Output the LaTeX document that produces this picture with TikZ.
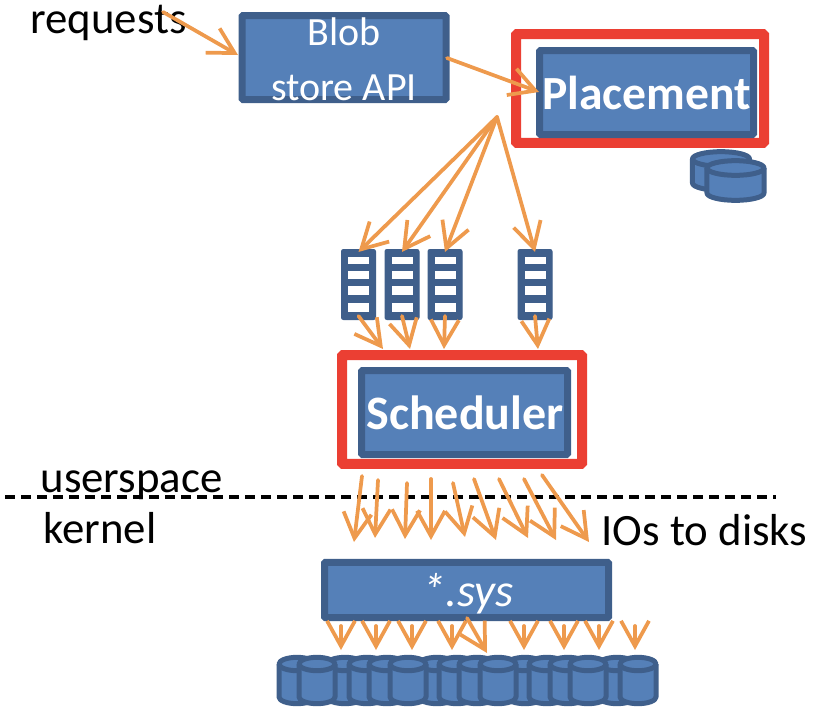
\documentclass[tikz,border=0pt]{standalone}
\usepackage{fontspec}
\setmainfont{Carlito}
\usetikzlibrary{arrows.meta}

\definecolor{boxblue}{HTML}{5580B8}
\definecolor{boxedge}{HTML}{3F5F8B}
\definecolor{flowline}{HTML}{EE9A4D}
\definecolor{markred}{HTML}{EB3F33}

\tikzset{
  blockbox/.style={draw=boxedge, fill=boxblue, line width=5.25pt, rounded corners=.8pt, inner sep=0pt},
  markbox/.style={draw=markred, line width=7.5pt, rounded corners=.8pt, inner sep=0pt},
  queuebox/.style={draw=boxedge, fill=boxedge, line width=.75pt, rounded corners=1.5pt, inner sep=0pt, minimum width=25.5pt, minimum height=52.5pt},
  queuecell/.style={draw=boxedge, fill=white, line width=.4pt, inner sep=0pt, minimum width=16.5pt},
  diskshape/.style={draw=boxedge, fill=boxblue, line width=3.75pt, line join=round},
  flow/.style={draw=flowline, line width=2.8pt, line cap=round, line join=round, -{Straight Barb[length=19pt,width=21pt,line width=2.8pt]}},
  plainlabel/.style={font=\fontsize{33.6}{36}\selectfont, inner sep=0pt, anchor=base},
  boxlabel/.style={text=white, inner sep=0pt, anchor=base}
}

\newcommand{\Queue}[2]{%
  \node[queuebox] (#1) at (#2,284.5) {};
  \node[queuecell, minimum height=5.5pt] (#1a) at (#2,260.3) {};
  \node[queuecell, minimum height=6.5pt] (#1b) at (#2,275) {};
  \node[queuecell, minimum height=7pt] (#1c) at (#2,290.3) {};
  \node[queuecell, minimum height=7.5pt] (#1d) at (#2,307.7) {};
}
\newcommand{\Disk}[6]{%
  \coordinate (#1) at (#2,#3);
  \draw[diskshape] (#2-#5*4/3,#3) -- (#2-#5*4/3,#4) arc[start angle=180, end angle=360, x radius=#5pt, y radius=#6pt] -- (#2+#5*4/3,#3);
  \draw[diskshape] (#1) ellipse[x radius=#5pt, y radius=#6pt];
}
\newcommand{\SmallDisk}[2]{\Disk{#1}{#2}{664}{697}{13.5}{5}}

\begin{document}
\begin{tikzpicture}[x=.75pt, y=-.75pt]
\useasboundingbox (0,0) rectangle (814,718);

\node[plainlabel] (requests) at (108.5,33) {requests};
\node[plainlabel] (userspace) at (131.5,492) {userspace};
\node[plainlabel] (kernel) at (100,543) {kernel};
\node[plainlabel] (iolabel) at (704.5,545) {IOs to disks};

\node[blockbox, minimum width=153pt, minimum height=63pt] (blobapi) at (344,57.5) {};
\node[boxlabel, font=\fontsize{30}{32}\selectfont] (bloblabel) at (344,45) {Blob};
\node[boxlabel, font=\fontsize{30}{32}\selectfont] (apilabel) at (344,100) {store API};

\node[markbox, minimum width=186pt, minimum height=81.5pt] (placemark) at (640,88.5) {};
\node[blockbox, minimum width=160.5pt, minimum height=63pt] (placement) at (646.5,92.5) {};
\node[boxlabel, font=\bfseries\fontsize{35.7}{37}\selectfont] (placelabel) at (646.5,109) {Placement};

\Disk{pdiskA}{721}{159}{183}{21.4}{5.5}
\Disk{pdiskB}{735.5}{168}{193}{21.4}{5.5}

\Queue{qA}{358.5}
\Queue{qB}{402}
\Queue{qC}{445}
\Queue{qD}{535}

\node[markbox, minimum width=180pt, minimum height=81.5pt] (schedmark) at (462,409.5) {};
\node[blockbox, minimum width=154.5pt, minimum height=63pt] (scheduler) at (464.5,412.5) {};
\node[boxlabel, font=\bfseries\fontsize{36}{38}\selectfont] (schedlabel) at (465,429) {Scheduler};

\coordinate (splitL) at (5,497);
\coordinate (splitR) at (776,497);
\draw[black, line width=2.4pt, dash pattern=on 7.5pt off 4.5pt] (splitL) -- (splitR);

\node[blockbox, minimum width=213pt, minimum height=41.5pt] (sysbox) at (466.5,590) {};
\node[boxlabel, font=\itshape\fontsize{35}{37}\selectfont] (syslabel) at (468,606) {*.sys};

\SmallDisk{dP}{617}
\SmallDisk{dQ}{638}
\SmallDisk{dK}{525}
\SmallDisk{dL}{547}
\SmallDisk{dM}{568}
\SmallDisk{dN}{588}
\SmallDisk{dG}{437}
\SmallDisk{dH}{457}
\SmallDisk{dI}{477}
\SmallDisk{dJ}{498}
\SmallDisk{dC}{345}
\SmallDisk{dD}{367}
\SmallDisk{dE}{387}
\SmallDisk{dF}{408}
\SmallDisk{dA}{297}
\SmallDisk{dB}{317}

\coordinate (reqS) at (163,12);
\coordinate (reqT) at (238,55);
\draw[flow] (reqS) -- (reqT);
\coordinate (apiS) at (447,58);
\coordinate (apiT) at (539,92);
\draw[flow] (apiS) -- (apiT);

\coordinate (fan) at (497,117);
\draw[flow] (fan) -- ([yshift=-2.2pt]qA.north);
\draw[flow] (fan) -- ([yshift=-2.2pt]qB.north);
\draw[flow] (fan) -- ([yshift=-2.2pt]qC.north);
\draw[flow] (fan) -- ([yshift=-2.2pt]qD.north);

\coordinate (inA) at (383,349);
\coordinate (inB) at (410,349);
\coordinate (inC) at (444,349);
\coordinate (inD) at (538,349);
\draw[flow] ([yshift=3pt]qA.south) -- (inA);
\draw[flow] ([yshift=3pt]qB.south) -- (inB);
\draw[flow] ([yshift=3pt]qC.south) -- (inC);
\draw[flow] ([yshift=3pt]qD.south) -- (inD);

\coordinate (outA) at (362,476);
\coordinate (outB) at (378,480);
\coordinate (outC) at (407,483);
\coordinate (outD) at (431,479);
\coordinate (outE) at (453,483);
\coordinate (outF) at (474,479);
\coordinate (outG) at (499,479);
\coordinate (outH) at (524,479);
\coordinate (outI) at (542,475);
\coordinate (ioA) at (354,542);
\coordinate (ioB) at (375,538);
\coordinate (ioC) at (405,539);
\coordinate (ioD) at (431,540);
\coordinate (ioE) at (465,537);
\coordinate (ioF) at (496,540);
\coordinate (ioG) at (528,538);
\coordinate (ioH) at (556,540);
\coordinate (ioI) at (589,542);
\draw[flow] (outA) -- (ioA);
\draw[flow] (outB) -- (ioB);
\draw[flow] (outC) -- (ioC);
\draw[flow] (outD) -- (ioD);
\draw[flow] (outE) -- (ioE);
\draw[flow] (outF) -- (ioF);
\draw[flow] (outG) -- (ioG);
\draw[flow] (outH) -- (ioH);
\draw[flow] (outI) -- (ioI);

\coordinate (sysA) at (341,626);
\coordinate (sysB) at (376,626);
\coordinate (sysC) at (412,626);
\coordinate (sysD) at (452,626);
\coordinate (sysE) at (467,618);
\coordinate (sysF) at (524,626);
\coordinate (sysG) at (564,626);
\coordinate (sysH) at (599,626);
\coordinate (sysI) at (635,626);
\coordinate (topA) at (341,650);
\coordinate (topB) at (376,650);
\coordinate (topC) at (412,650);
\coordinate (topD) at (452,650);
\coordinate (topE) at (487,653);
\coordinate (topF) at (524,650);
\coordinate (topG) at (564,650);
\coordinate (topH) at (599,650);
\coordinate (topI) at (635,650);
\draw[flow] (sysA) -- (topA);
\draw[flow] (sysB) -- (topB);
\draw[flow] (sysC) -- (topC);
\draw[flow] (sysD) -- (topD);
\draw[flow] (sysE) -- (topE);
\draw[flow] (sysF) -- (topF);
\draw[flow] (sysG) -- (topG);
\draw[flow] (sysH) -- (topH);
\draw[flow] (sysI) -- (topI);

\end{tikzpicture}
\end{document}
